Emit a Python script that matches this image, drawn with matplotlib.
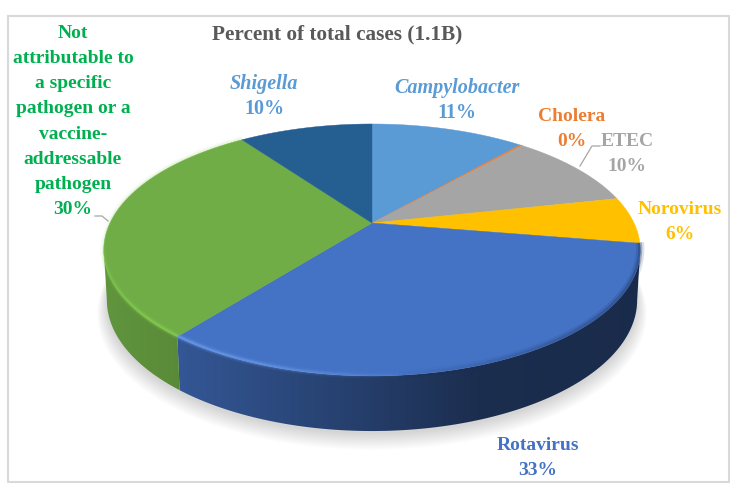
import numpy as np
import matplotlib
matplotlib.use("Agg")
import matplotlib.pyplot as plt
from matplotlib.colors import to_rgb
from matplotlib.patches import Polygon

# slices clockwise from 12 o'clock
names = ["Campylobacter", "Cholera", "ETEC", "Norovirus", "Rotavirus",
         "Not\nattributable to\na specific\npathogen or a\nvaccine-\naddressable\npathogen", "Shigella"]
values = [11.4, 0.2, 10.0, 6.0, 33.0, 29.5, 9.9]
shown = ["11%", "0%", "10%", "6%", "33%", "30%", "10%"]

colors = ["#5B9BD5", "#ED7D31", "#A5A5A5", "#FFC000", "#4472C4", "#70AD47", "#255E91"]
text_colors = ["#5B9BD5", "#ED7D31", "#A5A5A5", "#FFC000", "#4472C4", "#00B050", "#5B9BD5"]
italic = [True, False, False, False, False, False, True]
label_xy = [(457, 100), (572, 129), (627, 154), (680, 222), (538, 458), (73, 121.5), (264, 96)]

plt.rcParams["font.family"] = ["Liberation Serif", "DejaVu Serif"]

fig = plt.figure(figsize=(7.38, 4.92), dpi=100)
ax = fig.add_axes([0, 0, 1, 1])
ax.axis("off")

# perspective disc, top face and bottom rim
K = 0.214
CX = 372


def rim(theta, cy, a, b):
    X = np.sin(theta)
    d = -np.cos(theta)
    w = 1 - K * d
    return CX + b * X / w, cy + a * d / w


def top(theta):
    return rim(theta, 223, 120.2, 262)


def bottom(theta):
    return rim(theta, 272, 125, 259)


edges = np.radians(np.cumsum([0] + values) * 3.6)
# where the rim turns away from the viewer
right_turn = np.arccos(-K)
left_turn = 2 * np.pi - right_turn

# soft shadow under the pie
t = np.linspace(0, 2 * np.pi, 300)
bx, by = bottom(t)
for i in range(14):
    s = 1 + 0.0028 * i
    ax.fill(CX + (bx - CX) * s, 318 + (by - 318) * s + 3 + i * 0.9, color="#000000", alpha=0.012, lw=0, zorder=1)

# side wall, colour runs darker to the right
xs = np.arange(90, 650)
for i in (4, 5):
    if i == 4:
        f = np.interp(xs, [178, 300, 480, 640], [0.76, 0.62, 0.40, 0.38])
    else:
        f = np.interp(xs, [104, 178], [0.86, 0.80])
    grad = np.outer(f, to_rgb(colors[i]))[None, :, :]
    im = ax.imshow(grad, extent=(90, 650, 450, 200), aspect="auto", zorder=2, interpolation="bilinear")
    t = np.linspace(max(edges[i], right_turn), min(edges[i + 1], left_turn), 200)
    x1, y1 = top(t)
    x2, y2 = bottom(t)
    wall = Polygon(np.c_[np.r_[x1, x2[::-1]], np.r_[y1, y2[::-1]]], transform=ax.transData, fc="none", ec="none")
    ax.add_patch(wall)
    im.set_clip_path(wall)

# top face
for i in range(len(values)):
    t = np.linspace(edges[i], edges[i + 1], 120)
    x, y = top(t)
    ax.fill(np.r_[CX, x], np.r_[223, y], color=colors[i], lw=0.3, zorder=3)

# bevel along the front rim
for i, glow in {4: "#6FA0F0", 5: "#86D050"}.items():
    t = np.linspace(edges[i], edges[i + 1], 140)
    x, y = top(t)
    for j in range(len(t) - 1):
        if i == 4:
            fade = np.interp(x[j], [178, 260, 420], [1, 0.8, 0])
            dark = np.interp(x[j], [400, 560, 640], [0, 0.4, 0.6])
        else:
            fade = np.interp(y[j], [240, 320], [0.2, 1])
            dark = 0
        if fade > 0:
            for w, al in ((5, 0.14), (3, 0.28), (1.5, 0.55)):
                ax.plot(x[j:j + 2], y[j:j + 2] - 0.8, color=glow, lw=w, alpha=al * fade, zorder=4, solid_capstyle="butt")
        if dark > 0:
            for w, al in ((6, 0.25), (3, 0.5)):
                ax.plot(x[j:j + 2], y[j:j + 2] - 0.8, color="#1A2D54", lw=w, alpha=al * dark, zorder=4, solid_capstyle="butt")

# chart frame
ax.plot([7.5, 729, 729, 7.5, 7.5], [15.5, 15.5, 482, 482, 15.5], color="#D9D9D9", lw=1.5, zorder=0)

ax.text(337, 34, "Percent of total cases (1.1B)", color="#595959", fontsize=15.3, fontweight="bold",
        ha="center", va="center", zorder=6)

for n, p, c, it, (lx, ly) in zip(names, shown, text_colors, italic, label_xy):
    if it:
        ax.text(lx, ly - 12.5, n, color=c, fontsize=14.5, fontweight="bold", style="italic", ha="center", va="center", zorder=6)
        ax.text(lx, ly + 12.5, p, color=c, fontsize=14.5, fontweight="bold", ha="center", va="center", zorder=6)
    else:
        ax.text(lx, ly, n + "\n" + p, color=c, fontsize=14, fontweight="bold",
                ha="center", va="center", linespacing=1.625, zorder=6)

# leader lines
ax.plot([580, 592, 600], [166, 146, 146], color="#A6A6A6", lw=0.9, zorder=5)
ax.plot([95, 102, 108], [216, 216, 221], color="#A6A6A6", lw=0.9, zorder=5)

ax.set_xlim(0, 738)
ax.set_ylim(492, 0)

fig.savefig("out.png", dpi=100)
